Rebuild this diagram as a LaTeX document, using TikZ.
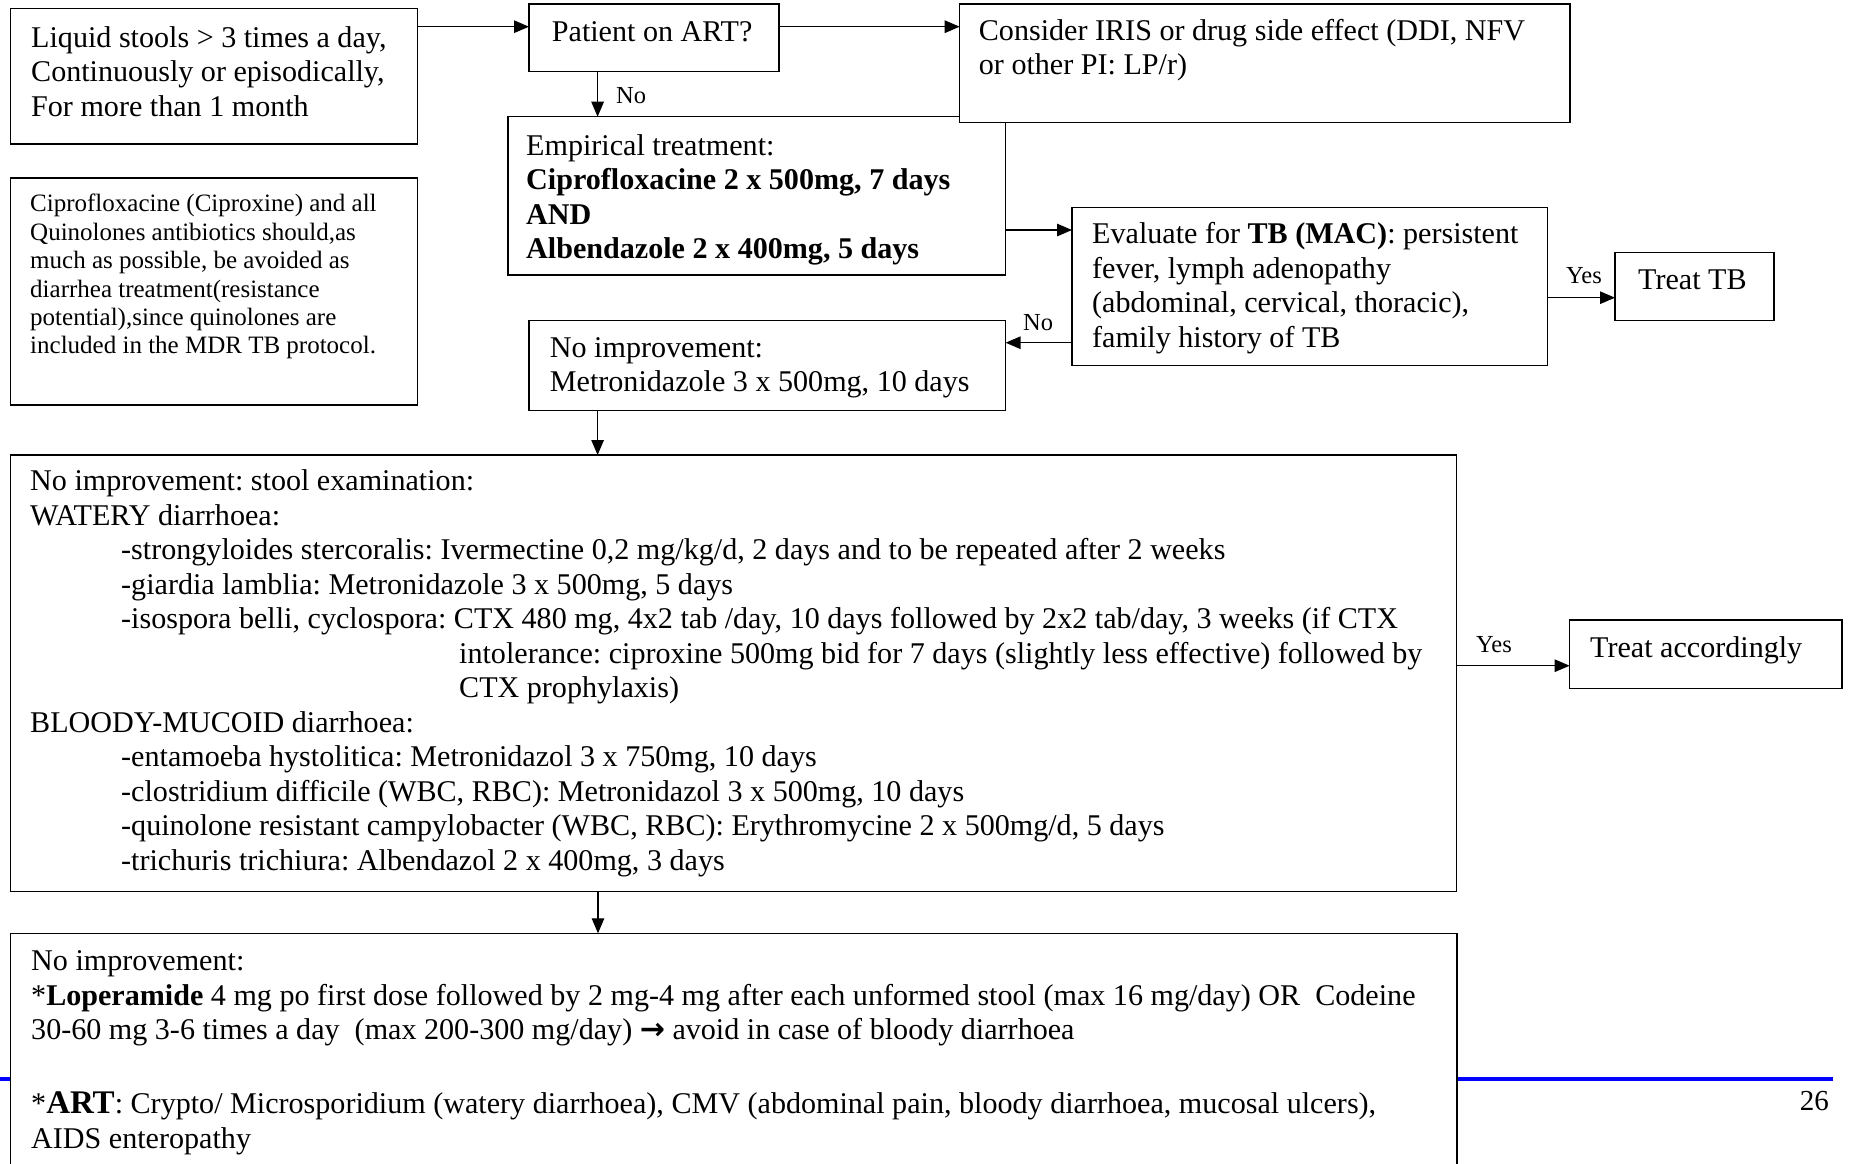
\documentclass[tikz,border=0pt]{standalone}
\usepackage{fontspec}
\setmainfont{Liberation Serif}
\newfontfamily\arrowfont{DejaVu Sans}
\usetikzlibrary{arrows.meta,calc}
\definecolor{slideblue}{RGB}{0,0,255}
\begin{document}
\frenchspacing
\begin{tikzpicture}[x=1pt,y=-1pt,
  box/.style={draw=black, line width=1.4pt, fill=white, inner sep=0pt, outer sep=0pt, anchor=north west},
  txt/.style={anchor=north west, inner sep=0pt, align=left, font=\fontsize{30.1}{34.5}\selectfont\frenchspacing},
  smalltxt/.style={anchor=north west, inner sep=0pt, align=left, font=\fontsize{25}{28.4}\selectfont\frenchspacing},
  lbl/.style={anchor=base west, inner sep=0pt, font=\fontsize{24.5}{28}\selectfont},
  arr/.style={line width=1.3pt, -{Triangle[length=15pt,width=12.5pt]}},
  ln/.style={line width=1.3pt}]
\useasboundingbox (0,0) rectangle (1849,1163);
\clip (0,0) rectangle (1849,1163);
\newcommand{\tstrut}{\rule{0pt}{25pt}}
\newcommand{\sstrut}{\rule{0pt}{21pt}}

% boxes
\node[box, minimum width=407.5pt, minimum height=135.7pt] (A) at (10.2,8.3) {};
\node[box, minimum width=250pt, minimum height=67.7pt] (B) at (529,4) {};
\node[box, minimum width=497.6pt, minimum height=158.3pt] (D) at (508,116.7) {};
\node[box, minimum width=610.3pt, minimum height=118.7pt] (C) at (959.7,4) {};
\node[box, minimum width=407.5pt, minimum height=227pt] (E) at (10.2,178) {};
\node[box, minimum width=475.5pt, minimum height=158.4pt] (F) at (1072,207.3) {};
\node[box, minimum width=159pt, minimum height=68.4pt] (G) at (1615,252.3) {};
\node[box, minimum width=476.6pt, minimum height=90pt] (H) at (529,320.7) {};
\node[box, minimum width=1446.3pt, minimum height=436.7pt] (I) at (10.2,455) {};
\node[box, minimum width=272.4pt, minimum height=68.3pt] (J) at (1569.6,620) {};

% slide rule and page number
\coordinate (bl0) at (0,1079);
\coordinate (bl1) at (1833,1079);
\draw[slideblue, line width=3.6pt] (bl0) -- (bl1);
\node[anchor=base east, inner sep=0pt, font=\fontsize{29}{34}\selectfont] (pg) at (1829,1110.7) {26};

\node[box, minimum width=1446.5pt, minimum height=300pt] (K) at (10.5,933.3) {};

% texts
\node[txt] (At) at (31,22) {\tstrut Liquid stools > 3 times a day,\\Continuously or episodically,\\For more than 1 month};
\node[txt] (Bt) at (551.7,16.7) {\tstrut Patient on ART?};
\node[txt] (Ct) at (978.7,15) {\tstrut Consider IRIS or drug side effect (DDI, NFV\\or other PI: LP/r)};
\node[txt] (Dt) at (526,130) {\tstrut Empirical treatment:\\\textbf{Ciprofloxacine 2 x 500mg, 7 days}\\\textbf{AND}\\\textbf{Albendazole 2 x 400mg, 5 days}};
\node[smalltxt] (Et) at (30,190.7) {\sstrut Ciprofloxacine (Ciproxine) and all\\Quinolones antibiotics should,as\\much as possible, be avoided as\\diarrhea treatment(resistance\\potential),since quinolones are\\included in the MDR TB protocol.};
\node[txt] (Ft) at (1092,218.3) {\tstrut Evaluate for \textbf{TB (MAC)}: persistent\\fever, lymph adenopathy\\(abdominal, cervical, thoracic),\\family history of TB};
\node[txt] (Gt) at (1638,264) {\tstrut Treat TB};
\node[txt] (Ht) at (549.7,332) {\tstrut No improvement:\\Metronidazole 3 x 500mg, 10 days};
\node[txt] (It) at (30,465.5) {\tstrut No improvement: stool examination:\\
WATERY diarrhoea:\\
\hspace*{91pt}-strongyloides stercoralis: Ivermectine 0,2 mg/kg/d, 2 days and to be repeated after 2 weeks\\
\hspace*{91pt}-giardia lamblia: Metronidazole 3 x 500mg, 5 days\\
\hspace*{91pt}-isospora belli, cyclospora: CTX 480 mg, 4x2 tab /day, 10 days followed by 2x2 tab/day, 3 weeks (if CTX\\
\hspace*{429pt}intolerance: ciproxine 500mg bid for 7 days (slightly less effective) followed by\\
\hspace*{429pt}CTX prophylaxis)\\
BLOODY-MUCOID diarrhoea:\\
\hspace*{91pt}-entamoeba hystolitica: Metronidazol 3 x 750mg, 10 days\\
\hspace*{91pt}-clostridium difficile (WBC, RBC): Metronidazol 3 x 500mg, 10 days\\
\hspace*{91pt}-quinolone resistant campylobacter (WBC, RBC): Erythromycine 2 x 500mg/d, 5 days\\
\hspace*{91pt}-trichuris trichiura: Albendazol 2 x 400mg, 3 days};
\node[txt] (Jt) at (1590,632) {\tstrut Treat accordingly};
\node[txt] (Kt) at (31,945.5) {\tstrut No improvement:\\
*\textbf{Loperamide} 4 mg po first dose followed by 2 mg-4 mg after each unformed stool (max 16 mg/day) OR\ \ Codeine\\
30-60 mg 3-6 times a day\ \ (max 200-300 mg/day) {\arrowfont\bfseries →} avoid in case of bloody diarrhoea\\[39.5pt]
*{\fontsize{33}{34.5}\selectfont\textbf{ART}}: Crypto/ Microsporidium (watery diarrhoea), CMV (abdominal pain, bloody diarrhoea, mucosal ulcers),\\
AIDS enteropathy};

% connectors
\draw[arr] ([yshift=-18.4pt]A.north east) coordinate (ab) -- (ab -| B.west);
\draw[arr] ([yshift=-22.7pt]B.north east) coordinate (bc) -- (bc -| C.west);
\draw[arr] ([xshift=68.6pt]B.south west) coordinate (bd) -- (bd |- D.north);
\node[lbl] (no1) at (616,103.5) {No};
\draw[arr] ([yshift=-113.3pt]D.north east) coordinate (df) -- (df -| F.west);
\draw[arr] ([yshift=-135.4pt]F.north west) coordinate (fh) -- (fh -| H.east);
\node[lbl] (no2) at (1023,330) {No};
\draw[arr] ([yshift=-90.4pt]F.north east) coordinate (fg) -- (fg -| G.west);
\node[lbl] (yes1) at (1566,283.5) {Yes};
\draw[arr] ([xshift=68.6pt]H.south west) coordinate (hi) -- (hi |- I.north);
\draw[arr] ([yshift=-210.7pt]I.north east) coordinate (ij) -- (ij -| J.west);
\node[lbl] (yes2) at (1476,652) {Yes};
\draw[arr] ([xshift=587.8pt]I.south west) coordinate (ik) -- (ik |- K.north);
\end{tikzpicture}
\end{document}
